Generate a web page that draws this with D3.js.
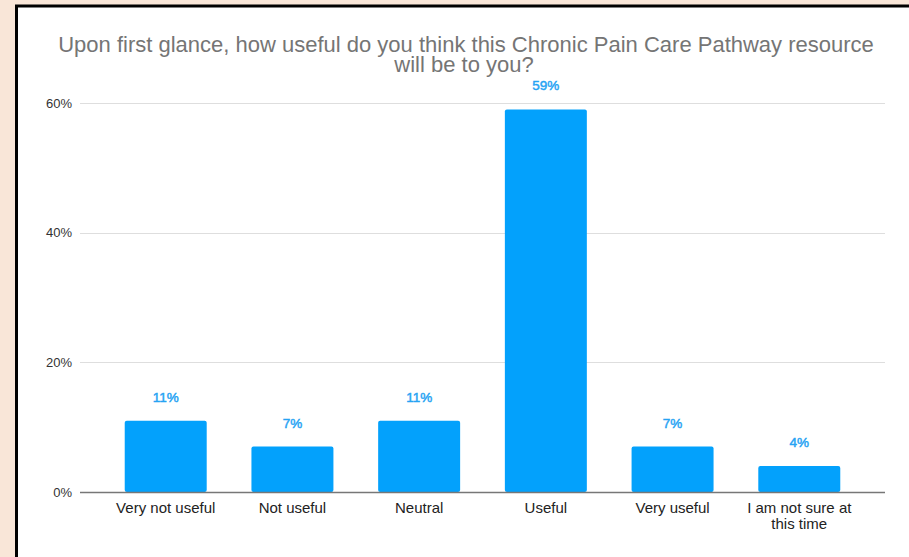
<!DOCTYPE html>
<html>
<head>
<meta charset="utf-8">
<script src="https://cdn.jsdelivr.net/npm/d3@7"></script>
<style>
  html, body { margin: 0; padding: 0; background: #f9e6d8; }
  svg { display: block; }
  text { font-family: "Liberation Sans", Arial, Helvetica, sans-serif; }
</style>
</head>
<body>
<svg id="chart" width="909" height="557"></svg>
<script>
// Survey responses: share of respondents per answer
const categories = ["Very not useful", "Not useful", "Neutral", "Useful", "Very useful", "I am not sure at this time"];
const values = [11, 7, 11, 59, 7, 4];
const yTicks = [0, 20, 40, 60];
const titleLines = [
  "Upon first glance, how useful do you think this Chronic Pain Care Pathway resource",
  "will be to you?"
];

const svg = d3.select("#chart");
const W = 909, H = 557;

// framed white panel
svg.append("rect").attr("x", 0).attr("y", 0).attr("width", W).attr("height", H).attr("fill", "#f9e6d8");
svg.append("rect").attr("x", 16.5).attr("y", 6).attr("width", W + 10).attr("height", H + 10)
  .attr("fill", "#ffffff").attr("stroke", "#000").attr("stroke-width", 3);

const plot = { left: 80, right: 885, top: 103, bottom: 492 };

const x = d3.scaleBand().domain(categories).range([plot.left, plot.right]).padding(0.353);
const y = d3.scaleLinear().domain([0, 60]).range([plot.bottom, plot.top]);

// title
const title = svg.append("text").attr("text-anchor", "middle").attr("fill", "#757575")
  .style("font-size", "22px");
titleLines.forEach((t, i) => {
  title.append("tspan").attr("x", i === 0 ? 466 : 464).attr("y", 52 + i * 20).text(t);
});

// gridlines
svg.append("g").selectAll("line").data(yTicks.filter(d => d > 0)).join("line")
  .attr("x1", plot.left).attr("x2", plot.right)
  .attr("y1", d => Math.round(y(d)) + 0.5).attr("y2", d => Math.round(y(d)) + 0.5)
  .attr("stroke", "#dedede").attr("stroke-width", 1);

// y axis labels
const yAxis = d3.axisLeft(y).tickValues(yTicks).tickFormat(d => d + "%").tickSize(0).tickPadding(8);
const ya = svg.append("g").attr("transform", `translate(${plot.left},0)`).call(yAxis);
ya.select(".domain").remove();
ya.selectAll("text").attr("fill", "#333").style("font-size", "13px")
  .style("font-family", "'Liberation Sans', Arial, sans-serif");

// bars
svg.append("g").selectAll("rect").data(values).join("rect")
  .attr("x", (d, i) => x(categories[i]))
  .attr("y", d => y(d))
  .attr("width", x.bandwidth())
  .attr("height", d => plot.bottom - y(d))
  .attr("rx", 2)
  .attr("fill", "#03a1fc");

// value labels (medium weight via a thin outline)
svg.append("g").selectAll("text").data(values).join("text")
  .attr("x", (d, i) => x(categories[i]) + x.bandwidth() / 2)
  .attr("y", d => y(d) - 19)
  .attr("text-anchor", "middle")
  .attr("fill", "#26a3f3")
  .attr("stroke", "#26a3f3")
  .attr("stroke-width", 0.45)
  .style("font-size", "13.5px")
  .text(d => d + "%");

// baseline
svg.append("line").attr("x1", plot.left).attr("x2", plot.right)
  .attr("y1", plot.bottom + 0.5).attr("y2", plot.bottom + 0.5)
  .attr("stroke", "#777").attr("stroke-width", 1.5);

// x axis labels (wrapped)
const xAxis = d3.axisBottom(x).tickSize(0).tickPadding(0);
const xa = svg.append("g").attr("transform", `translate(0,${plot.bottom})`).call(xAxis);
xa.select(".domain").remove();
xa.selectAll("text").each(function(d) {
  const el = d3.select(this);
  el.text(null).attr("y", 0).attr("dy", null).attr("fill", "#222")
    .style("font-size", "15px").style("font-family", "'Liberation Sans', Arial, sans-serif");
  const lines = d === "I am not sure at this time" ? ["I am not sure at", "this time"] : [d];
  lines.forEach((l, i) => el.append("tspan").attr("x", 0).attr("y", 21 + i * 15.5).text(l));
});
</script>
</body>
</html>
